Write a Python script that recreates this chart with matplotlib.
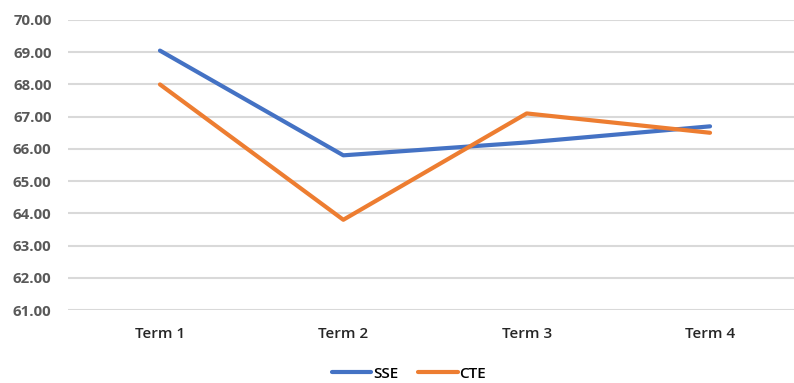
import matplotlib
matplotlib.use("Agg")
import matplotlib.pyplot as plt

terms = ["Term 1", "Term 2", "Term 3", "Term 4"]
sse = [69.05, 65.8, 66.2, 66.7]
cte = [68.0, 63.8, 67.1, 66.5]
y_ticks = [61, 62, 63, 64, 65, 66, 67, 68, 69, 70]

plt.rcParams["font.family"] = ["Open Sans", "DejaVu Sans"]

fig = plt.figure(figsize=(7.94, 3.83), dpi=100)
ax = fig.add_axes([0.086, 0.1906, 0.9237, 0.7572])

x = range(len(terms))
ax.plot(x, sse, color="#4472C4", lw=3.0, label="SSE", solid_capstyle="round")
ax.plot(x, cte, color="#ED7D31", lw=3.0, label="CTE", solid_capstyle="round")

ax.set_xlim(-0.5, len(terms) - 0.5)
ax.set_ylim(61, 70)
ax.set_yticks(y_ticks)
ax.set_yticklabels([f"{v:.2f}" for v in y_ticks], fontsize=10.8,
                   fontweight="bold", color="#595959")
ax.set_xticks(list(x))
ax.set_xticklabels(terms, fontsize=11, fontweight="semibold", color="#262626")
ax.tick_params(axis="y", length=0, pad=12)
ax.tick_params(axis="x", length=0, pad=12)
ax.grid(axis="y", color="#D9D9D9", lw=1.5)
ax.set_axisbelow(True)
for s in ax.spines.values():
    s.set_visible(False)

fig.legend(loc="lower center", bbox_to_anchor=(0.515, -0.03), ncol=2,
           frameon=False, prop={"size": 11, "weight": "semibold"},
           handlelength=2.6, handletextpad=0.1, columnspacing=1.3)

fig.savefig("out.png", dpi=100)
